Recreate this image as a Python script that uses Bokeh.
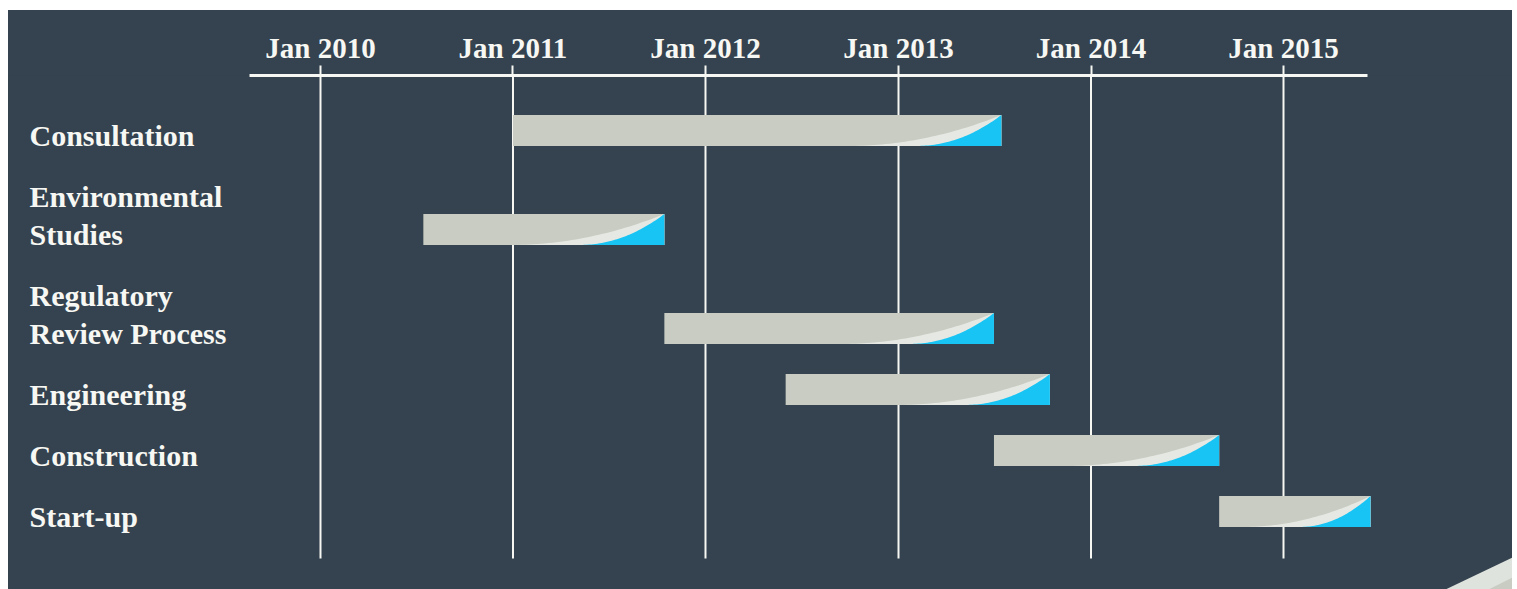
import pandas as pd
from bokeh.plotting import figure
from bokeh.models import Range1d, DatetimeAxis, FixedTicker, DatetimeTickFormatter
from bokeh.core.properties import value
from bokeh.embed import file_html
from bokeh.resources import INLINE

# ---- data ----
tasks = ["Consultation", "Environmental\nStudies", "Regulatory\nReview Process",
         "Engineering", "Construction", "Start-up"]
starts = ["2011-01-01", "2010-07-15", "2011-10-15", "2012-06-01", "2013-07-01", "2014-09-01"]
ends = ["2013-07-15", "2011-10-15", "2013-07-01", "2013-10-15", "2014-09-01", "2015-06-15"]
tick_dates = ["2010-01-01", "2011-01-01", "2012-01-01", "2013-01-01", "2014-01-01", "2015-01-01"]
axis_bounds = ["2009-08-20", "2015-06-10"]

BG = "#34434f"
GREY = "#c8ccc2"
LIGHT = "#e6e9e3"
BLUE = "#18c4f4"
WHITE = "#f7f7f3"
FONT = value("Liberation Serif")


def ms(s):
    return pd.Timestamp(s).value / 1e6


W, H = 1504, 579
TOP = 65
t0, t5 = ms(tick_dates[0]), ms(tick_dates[-1])
px = (t5 - t0) / 963.0
x_start = t0 - 312 * px
x_end = x_start + W * px

p = figure(width=W, height=H, x_range=Range1d(x_start, x_end), y_range=Range1d(H - TOP, 0),
           x_axis_type=None, y_axis_type=None, output_backend="svg", toolbar_location=None,
           min_border_left=0, min_border_right=0, min_border_bottom=0, min_border_top=TOP,
           background_fill_color=BG, border_fill_color=BG, outline_line_color=None)
p.styles = {"margin-left": "8px", "margin-top": "10px", "background-color": BG}

tick_ms = [ms(d) for d in tick_dates]

# grid lines
p.segment(x0=tick_ms, y0=[0] * len(tick_ms), x1=tick_ms, y1=[483] * len(tick_ms),
          line_color=WHITE, line_width=2)

# row positions from label line counts
ys = []
y = 55
for i, t in enumerate(tasks):
    n = len(t.split("\n"))
    if i > 0:
        y += 61 + 38 * (n - 1)
    ys.append(y)

s_ms = [ms(s) for s in starts]
e_ms = [ms(e) for e in ends]
BH = 31
p.hbar(y=ys, left=s_ms, right=e_ms, height=BH, fill_color=GREY, line_color=None)


def curve(x1, w, yc, pw, n=40):
    bot = yc + BH / 2
    xs, yy = [], []
    for k in range(n + 1):
        t = k / n
        xs.append(x1 - w * (1 - t))
        yy.append(bot - BH * t ** pw)
    xs.append(x1)
    yy.append(bot)
    return xs, yy


lx, ly, bx, by = [], [], [], []
for s, e, yc in zip(s_ms, e_ms, ys):
    length_px = (e - s) / px
    ws = min(154, 0.85 * length_px)
    wb = 0.56 * ws
    a, b = curve(e, ws * px, yc, 2.0)
    lx.append(a); ly.append(b)
    a, b = curve(e, wb * px, yc, 2.1)
    bx.append(a); by.append(b)
p.patches(lx, ly, fill_color=LIGHT, line_color=None)
p.patches(bx, by, fill_color=BLUE, line_color=None)

# task labels
tx, ty, tt = [], [], []
for t, yc in zip(tasks, ys):
    lines = t.split("\n")
    n = len(lines)
    for j, line in enumerate(lines):
        tx.append(x_start + 21 * px)
        ty.append(yc + 5 - 38 * (n - 1 - j))
        tt.append(line)
p.text(x=tx, y=ty, text=tt, text_font=FONT, text_font_style="bold", text_font_size="30px",
       text_color=WHITE, text_baseline="alphabetic", text_align="left")


# decorative swoosh bottom-right (page coordinates)
def X(pxv):
    return x_start + (pxv - 8) * px


def Y(pyv):
    return pyv - 75


p.patch([X(1445), X(1512), X(1512)], [Y(589), Y(557), Y(589)], fill_color="#dfe3dd", line_color=None)
p.patch([X(1488), X(1512), X(1512)], [Y(589), Y(577), Y(589)], fill_color=GREY, line_color=None)

# top axis
fmt = DatetimeTickFormatter(years="%b %Y", months="%b %Y", days="%b %Y", hours="%b %Y",
                            minutes="%b %Y", seconds="%b %Y", milliseconds="%b %Y",
                            microseconds="%b %Y", hourmin="%b %Y", minsec="%b %Y")
ax = DatetimeAxis(ticker=FixedTicker(ticks=tick_ms), formatter=fmt,
                  bounds=(ms(axis_bounds[0]), ms(axis_bounds[1])))
ax.axis_line_color = WHITE
ax.axis_line_width = 3
ax.major_tick_line_color = WHITE
ax.major_tick_line_width = 2
ax.major_tick_out = 10
ax.major_tick_in = 0
ax.minor_tick_line_color = None
ax.major_label_text_color = WHITE
ax.major_label_text_font = "Liberation Serif"
ax.major_label_text_font_style = "bold"
ax.major_label_text_font_size = "29px"
ax.major_label_standoff = 2
p.add_layout(ax, "above")

open("out.html", "w").write(file_html(p, INLINE))
